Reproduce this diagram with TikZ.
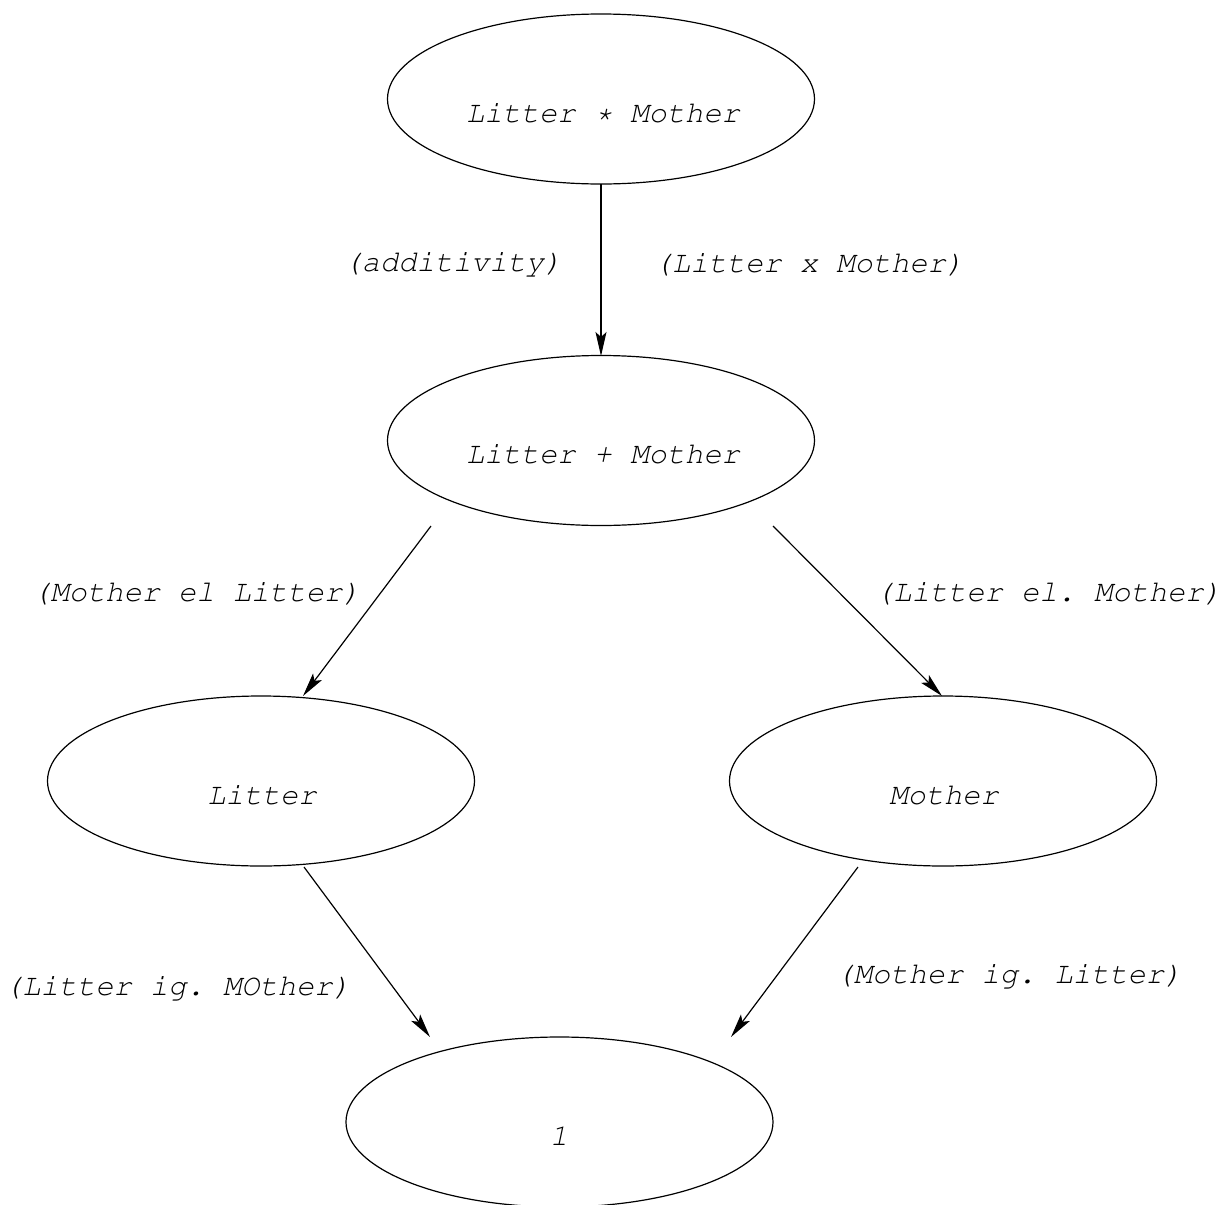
\documentclass[tikz,border=0pt]{standalone}
\usepackage[T1]{fontenc}
\usetikzlibrary{shapes.geometric,arrows.meta}
\newcommand{\courierfont}{\fontencoding{T1}\fontfamily{pcr}\fontseries{m}\fontshape{sl}\fontsize{15.2pt}{18pt}\selectfont\frenchspacing}
\begin{document}
\begin{tikzpicture}[x=0.5pt,y=-0.5pt,
  every node/.style={font=\courierfont, inner sep=0pt},
  oval/.style={draw, line width=0.6pt, ellipse, minimum width=213.5pt, minimum height=85pt},
  arr/.style={line width=0.6pt, -{Stealth[length=12pt,width=5.5pt,inset=2.5pt]}}]
\useasboundingbox (0,0) rectangle (1228,1205);
\clip (0,0) rectangle (1228,1205);
% ellipses
\node[oval] (tm) at (601,99) {};
\node[oval] (lm) at (601,440.5) {};
\node[oval] (li) at (261,781) {};
\node[oval] (mo) at (943,781) {};
\node[oval] (one) at (559.5,1122) {};
% texts in ellipses
\node (ttm) at (603,113) {Litter * Mother};
\node (tlm) at (603,454) {Litter + Mother};
\node (tli) at (262,795) {Litter};
\node (tmo) at (944,795) {Mother};
\node (tone) at (559,1136) {1};
% edge labels
\node (l1) at (453,264) {(additivity)};
\node (l2) at (809,264) {(Litter x Mother)};
\node (l3) at (196.5,593) {(Mother el Litter)};
\node (l4) at (1048.5,593) {(Litter el. Mother)};
\node (l5) at (177.5,988) {(Litter ig. MOther)};
\node (l6) at (1009,976) {(Mother ig. Litter)};
% connector ends
\coordinate (a1s) at (601,184);
\coordinate (a1e) at (601,356);
\coordinate (a2s) at (431,526);
\coordinate (a2e) at (303,696);
\coordinate (a3s) at (773,526);
\coordinate (a3e) at (942,696);
\coordinate (a4s) at (304,867);
\coordinate (a4e) at (430,1037);
\coordinate (a5s) at (858,867);
\coordinate (a5e) at (731,1037);
\draw[arr] (a1s) -- (a1e);
\draw[arr] (a2s) -- (a2e);
\draw[arr] (a3s) -- (a3e);
\draw[arr] (a4s) -- (a4e);
\draw[arr] (a5s) -- (a5e);
\end{tikzpicture}
\end{document}
